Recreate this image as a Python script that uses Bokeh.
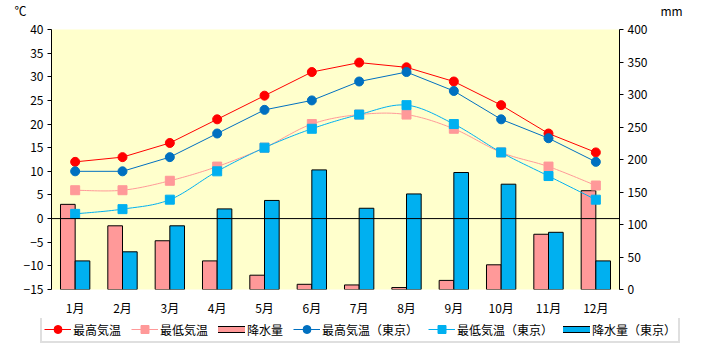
import numpy as np
from bokeh.plotting import figure
from bokeh.layouts import column
from bokeh.models import (FactorRange, Range1d, LinearAxis, FixedTicker, Span,
                          Legend, LegendItem, Label, ColumnDataSource)
from bokeh.transform import dodge
from bokeh.embed import file_html
from bokeh.resources import INLINE

months = [f"{i}月" for i in range(1, 13)]
high = [12, 13, 16, 21, 26, 31, 33, 32, 29, 24, 18, 14]
low = [6, 6, 8, 11, 15, 20, 22, 22, 19, 14, 11, 7]
rain = [131, 98, 75, 44, 22, 8, 7, 3, 14, 38, 85, 152]
high_tokyo = [10, 10, 13, 18, 23, 25, 29, 31, 27, 21, 17, 12]
low_tokyo = [1, 2, 4, 10, 15, 19, 22, 24, 20, 14, 9, 4]
rain_tokyo = [44, 58, 98, 124, 137, 184, 125, 147, 180, 162, 88, 44]
temp_ticks = list(range(-15, 41, 5))
rain_ticks = list(range(0, 401, 50))

FONT = "Noto Sans CJK JP"
RED = "#FF0000"
PINK = "#FF9999"
DBLUE = "#0070C0"
LBLUE = "#00B0F0"
W = 704


def smooth(yv, n=20):
    xv = np.arange(len(yv)) + 0.5
    pts = np.column_stack([xv, np.asarray(yv, dtype=float)])
    ox, oy = [], []
    t = np.linspace(0, 1, n)[:, None]
    for i in range(len(pts) - 1):
        p0 = pts[i - 1] if i > 0 else pts[i]
        p1 = pts[i]
        p2 = pts[i + 1]
        p3 = pts[i + 2] if i + 2 < len(pts) else pts[i + 1]
        c1 = p1 + (p2 - p0) / 6
        c2 = p2 - (p3 - p1) / 6
        b = ((1 - t) ** 3) * p1 + 3 * ((1 - t) ** 2) * t * c1 + 3 * (1 - t) * t ** 2 * c2 + t ** 3 * p2
        seg = b if i == 0 else b[1:]
        ox.extend(seg[:, 0])
        oy.extend(seg[:, 1])
    return ox, oy


def strip(height):
    f = figure(width=W, height=height, output_backend="svg", toolbar_location=None,
               x_range=Range1d(0, W), y_range=Range1d(0, height),
               x_axis_type=None, y_axis_type=None,
               min_border_left=0, min_border_right=0, min_border_top=0, min_border_bottom=0,
               outline_line_color=None, background_fill_color="white", border_fill_color="white")
    f.frame_align = False
    f.xgrid.visible = False
    f.ygrid.visible = False
    return f


# ---- header strip with unit labels
hd = strip(19)
hd.add_layout(Label(x=14, y=9, text="℃", text_font=FONT, text_font_size="12px",
                    text_align="left", text_baseline="middle", text_color="black"))
hd.add_layout(Label(x=660, y=9, text="mm", text_font=FONT, text_font_size="12px",
                    text_align="left", text_baseline="middle", text_color="black"))

# ---- main chart
p = figure(x_range=FactorRange(*months), y_range=Range1d(-15, 40),
           width=W, height=299, output_backend="svg", toolbar_location=None,
           min_border_left=51, min_border_right=85, min_border_top=10, min_border_bottom=20,
           background_fill_color="#FFFFCC", border_fill_color="white",
           outline_line_color=None)
p.extra_y_ranges = {"mm": Range1d(0, 400)}
p.xgrid.visible = False
p.ygrid.visible = False

ya = p.yaxis[0]
ya.ticker = FixedTicker(ticks=temp_ticks)
ya.major_tick_in = 0
ya.major_tick_out = 4
ya.minor_tick_line_color = None
ya.axis_line_color = "black"
ya.major_tick_line_color = "black"
ya.major_label_text_font = FONT
ya.major_label_text_font_size = "12px"
ya.major_label_text_color = "black"
ya.major_label_standoff = 4

ra = LinearAxis(y_range_name="mm", ticker=FixedTicker(ticks=rain_ticks))
ra.major_tick_in = 0
ra.major_tick_out = 4
ra.minor_tick_line_color = None
ra.axis_line_color = "black"
ra.major_tick_line_color = "black"
ra.major_label_text_font = FONT
ra.major_label_text_font_size = "12px"
ra.major_label_text_color = "black"
ra.major_label_standoff = 4
p.add_layout(ra, "right")

xa = p.xaxis[0]
xa.axis_line_color = None
xa.major_tick_line_color = None
xa.minor_tick_line_color = None
xa.major_label_text_font = FONT
xa.major_label_text_font_size = "12px"
xa.major_label_text_color = "black"
xa.major_label_standoff = 3

src = ColumnDataSource(dict(month=months, rain=rain, rain_tokyo=rain_tokyo))
p.vbar(x=dodge("month", -0.155, range=p.x_range), top="rain", bottom=0, width=0.31,
       y_range_name="mm", fill_color=PINK, line_color="black", line_width=1, source=src)
p.vbar(x=dodge("month", 0.155, range=p.x_range), top="rain_tokyo", bottom=0, width=0.31,
       y_range_name="mm", fill_color=LBLUE, line_color="black", line_width=1, source=src)

p.add_layout(Span(location=0, dimension="width", line_color="black", line_width=1))

p.line(months, high, line_color=RED, line_width=1)
p.scatter(months, high, marker="circle", size=9, fill_color=RED, line_color=RED)
sx, sy = smooth(low)
p.line(sx, sy, line_color=PINK, line_width=1)
p.scatter(months, low, marker="square", size=9, fill_color=PINK, line_color=PINK)
p.line(months, high_tokyo, line_color=DBLUE, line_width=1)
p.scatter(months, high_tokyo, marker="circle", size=9, fill_color=DBLUE, line_color=DBLUE)
sx2, sy2 = smooth(low_tokyo)
p.line(sx2, sy2, line_color=LBLUE, line_width=1)
p.scatter(months, low_tokyo, marker="square", size=9, fill_color=LBLUE, line_color=LBLUE)

# ---- legend strip (its renderers fall outside its visible range; only the legend shows)
lg = strip(26)
lg.y_range = Range1d(1000, 1001)
idx = list(range(len(months)))
l1 = lg.line(idx, high, line_color=RED, line_width=1)
m1 = lg.scatter(idx, high, marker="circle", size=9, fill_color=RED, line_color=RED)
l2 = lg.line(idx, low, line_color=PINK, line_width=1)
m2 = lg.scatter(idx, low, marker="square", size=9, fill_color=PINK, line_color=PINK)
k1 = lg.line(idx, rain, line_color="black", line_width=7, line_cap="square")
k2 = lg.line(idx, rain, line_color=PINK, line_width=5, line_cap="square")
l3 = lg.line(idx, high_tokyo, line_color=DBLUE, line_width=1)
m3 = lg.scatter(idx, high_tokyo, marker="circle", size=9, fill_color=DBLUE, line_color=DBLUE)
l4 = lg.line(idx, low_tokyo, line_color=LBLUE, line_width=1)
m4 = lg.scatter(idx, low_tokyo, marker="square", size=9, fill_color=LBLUE, line_color=LBLUE)
k3 = lg.line(idx, rain_tokyo, line_color="black", line_width=7, line_cap="square")
k4 = lg.line(idx, rain_tokyo, line_color=LBLUE, line_width=5, line_cap="square")

legend = Legend(items=[
    LegendItem(label="最高気温", renderers=[l1, m1]),
    LegendItem(label="最低気温", renderers=[l2, m2]),
    LegendItem(label="降水量", renderers=[k1, k2]),
    LegendItem(label="最高気温（東京）", renderers=[l3, m3]),
    LegendItem(label="最低気温（東京）", renderers=[l4, m4]),
    LegendItem(label="降水量（東京）", renderers=[k3, k4]),
], orientation="horizontal", location=(40, 1),
    glyph_width=27, glyph_height=20, label_height=20, label_standoff=2,
    spacing=10, padding=2, margin=0,
    label_text_font=FONT, label_text_font_size="12px", label_text_color="black",
    border_line_color="#C0C0C0", border_line_width=2,
    background_fill_color="white", background_fill_alpha=1)
lg.add_layout(legend)

layout = column(hd, p, lg, spacing=0)
open("out.html", "w").write(file_html(layout, INLINE))
